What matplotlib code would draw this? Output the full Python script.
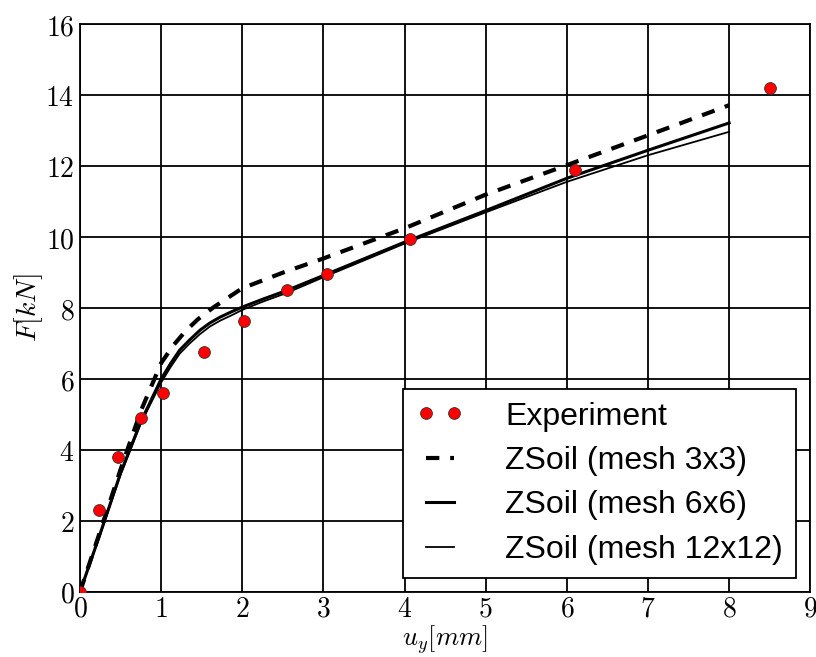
import matplotlib
matplotlib.use("Agg")
import matplotlib.pyplot as plt
from matplotlib.ticker import FuncFormatter, MultipleLocator

plt.rcParams['mathtext.fontset'] = 'cm'

# experiment
exp_u = [0.0, 0.24, 0.47, 0.75, 1.02, 1.53, 2.02, 2.55, 3.05, 4.07, 6.1, 8.5]
exp_f = [0.0, 2.3, 3.8, 4.9, 5.6, 6.75, 7.65, 8.5, 8.95, 9.95, 11.9, 14.2]

# ZSoil mesh 3x3
m3_u = [0.0, 0.25, 0.5, 0.75, 1.0, 1.15, 1.3, 1.45, 1.65, 2.0, 2.5, 3.0, 4.0, 5.0, 6.0, 7.0, 8.0]
m3_f = [0.0, 1.72, 3.45, 5.1, 6.45, 6.95, 7.35, 7.68, 8.03, 8.56, 9.0, 9.4, 10.25, 11.2, 12.03, 12.87, 13.72]

# ZSoil mesh 6x6
m6_u = [0.0, 0.25, 0.5, 0.75, 1.0, 1.12, 1.23, 1.35, 1.48, 1.6, 1.73, 1.87, 2.0, 2.25,
        2.55, 3.0, 4.0, 5.0, 6.0, 7.0, 8.0]
m6_f = [0.0, 1.65, 3.35, 4.8, 6.0, 6.45, 6.82, 7.1, 7.38, 7.58, 7.75, 7.9, 8.03, 8.25,
        8.5, 8.92, 9.86, 10.75, 11.66, 12.45, 13.22]

# ZSoil mesh 12x12
m12_u = [0.0, 0.25, 0.5, 0.75, 1.0, 1.12, 1.23, 1.35, 1.48, 1.6, 1.73, 1.87, 2.0, 2.25,
         2.55, 3.0, 4.0, 5.0, 6.0, 7.0, 8.0]
m12_f = [0.0, 1.62, 3.3, 4.75, 5.9, 6.35, 6.72, 7.0, 7.27, 7.48, 7.65, 7.8, 7.95, 8.18,
         8.43, 8.87, 9.82, 10.7, 11.56, 12.31, 12.97]

fig = plt.figure(figsize=(8.16, 6.57), dpi=100)
ax = fig.add_axes([0.098, 0.099, 0.895, 0.864])

ax.plot(exp_u, exp_f, 'o', color='red', markeredgecolor='#333333',
        markeredgewidth=0.6, markersize=8.5, label='Experiment', zorder=5)
ax.plot(m3_u, m3_f, color='black', lw=3.0, dashes=(3.2, 2.6), label='ZSoil (mesh 3x3)')
ax.plot(m6_u, m6_f, color='black', lw=2.2, label='ZSoil (mesh 6x6)')
ax.plot(m12_u, m12_f, color='black', lw=1.3, label='ZSoil (mesh 12x12)')

ax.set_xlim(0, 9)
ax.set_ylim(0, 16)
ax.xaxis.set_major_locator(MultipleLocator(1))
ax.yaxis.set_major_locator(MultipleLocator(2))
fmt = FuncFormatter(lambda v, p: r'$%g$' % v)
ax.xaxis.set_major_formatter(fmt)
ax.yaxis.set_major_formatter(fmt)
ax.tick_params(labelsize=20, direction='in', top=True, right=True, length=0, pad=4)
ax.tick_params(axis='x', pad=2)
ax.grid(True, color='black', lw=1.3, ls='-')
ax.set_axisbelow(True)
for s in ax.spines.values():
    s.set_linewidth(1.3)

ax.set_xlabel(r'$u_y[mm]$', fontsize=19, labelpad=0)
ax.set_ylabel(r'$F[kN]$', fontsize=20, labelpad=0)

leg = ax.legend(loc='lower right', numpoints=2, handlelength=1.5,
                handletextpad=1.3, labelspacing=0.45, borderpad=0.4,
                fancybox=False, framealpha=1, borderaxespad=0.45,
                prop={'family': 'Liberation Sans', 'size': 23})
leg.get_frame().set_edgecolor('black')
leg.get_frame().set_linewidth(1.3)

fig.savefig('out.png', dpi=100)
